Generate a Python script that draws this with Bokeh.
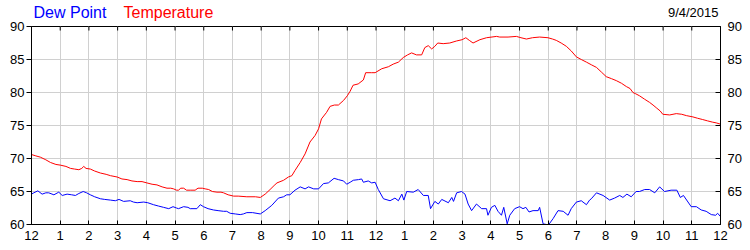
from bokeh.plotting import figure
from bokeh.models import Range1d, LinearAxis, FixedTicker, ColumnDataSource
from bokeh.layouts import column
from bokeh.core.properties import value
from bokeh.embed import file_html
from bokeh.resources import INLINE

# ---- data (hours since midnight, degrees F) ----
temp_hours = [0.0, 0.15, 0.31, 0.5, 0.66, 0.85, 1.0, 1.2, 1.36, 1.5, 1.65, 1.75, 1.82, 1.9, 2.05, 2.2, 2.4,
              2.6, 2.75, 2.98, 3.15, 3.33, 3.5, 3.68, 3.85, 4.02, 4.2, 4.37, 4.55, 4.72, 4.85, 4.95, 5.05,
              5.12, 5.2, 5.3, 5.4, 5.55, 5.7, 5.8, 5.95, 6.05, 6.17, 6.3, 6.46, 6.6, 6.69, 6.85, 7.04, 7.2,
              7.5, 7.8, 7.97, 8.14, 8.31, 8.45, 8.55, 8.78, 8.95, 9.07, 9.18, 9.36, 9.53, 9.7, 9.88, 10.0,
              10.1, 10.28, 10.4, 10.55, 10.69, 10.87, 11.0, 11.1, 11.2, 11.38, 11.56, 11.64, 11.85, 11.97,
              12.2, 12.43, 12.6, 12.78, 12.95, 13.1, 13.24, 13.41, 13.59, 13.7, 13.82, 13.94, 14.05, 14.15,
              14.34, 14.57, 14.8, 15.0, 15.13, 15.25, 15.38, 15.62, 15.85, 16.2, 16.31, 16.6, 16.89, 17.05,
              17.24, 17.45, 17.7, 17.99, 18.15, 18.28, 18.45, 18.63, 18.8, 18.98, 19.15, 19.33, 19.5, 19.68,
              19.85, 20.02, 20.2, 20.37, 20.55, 20.72, 20.85, 20.95, 21.05, 21.18, 21.35, 21.53, 21.65,
              21.76, 21.9, 21.99, 22.23, 22.46, 22.65, 22.81, 23.04, 23.2, 23.38, 23.55, 23.73, 23.85, 24.0]
temp_values = [70.6, 70.4, 70.2, 69.8, 69.4, 69.1, 69.0, 68.8, 68.5, 68.4, 68.3, 68.5, 68.8, 68.5, 68.4, 68.1, 67.8,
               67.6, 67.4, 67.2, 66.9, 66.8, 66.6, 66.5, 66.5, 66.3, 66.1, 66.0, 65.7, 65.5, 65.5, 65.4, 65.2,
               65.2, 65.5, 65.5, 65.2, 65.2, 65.2, 65.5, 65.5, 65.4, 65.3, 65.0, 64.9, 64.9, 64.8, 64.5, 64.3, 64.3,
               64.2, 64.2, 64.1, 64.6, 65.3, 65.9, 66.3, 66.7, 67.2, 67.4, 68.2, 69.4, 70.7, 72.5, 73.5, 74.5,
               76.0, 77.0, 77.9, 78.1, 78.1, 78.8, 79.5, 80.2, 81.1, 81.3, 81.9, 83.0, 83.0, 83.0,
               83.6, 83.9, 84.3, 84.6, 85.3, 85.7, 86.0, 85.7, 85.7, 86.8, 87.1, 86.6, 87.0, 87.5,
               87.4, 87.5, 87.8, 88.0, 88.3, 87.9, 87.5, 88.0, 88.3, 88.5, 88.4, 88.4, 88.5, 88.3,
               88.1, 88.3, 88.4, 88.3, 88.1, 87.9, 87.5, 87.0, 86.3, 85.4, 85.0, 84.6, 84.2, 83.8,
               83.1, 82.4, 82.1, 81.8, 81.4, 80.9, 80.6, 80.0, 79.8, 79.5, 79.0, 78.5, 78.1,
               77.7, 77.2, 76.7, 76.6, 76.8, 76.7, 76.5, 76.3, 76.1, 75.9, 75.7, 75.5, 75.4, 75.2]

dew_hours = [0.0, 0.08, 0.22, 0.37, 0.5, 0.6, 0.78, 0.95, 1.07, 1.24, 1.4, 1.53, 1.65, 1.8, 1.92, 2.05, 2.2, 2.4,
             2.55, 2.75, 2.92, 3.05, 3.21, 3.44, 3.55, 3.68, 3.91, 4.05, 4.25, 4.42, 4.6, 4.78, 4.93, 5.05, 5.12,
             5.3, 5.45, 5.53, 5.76, 5.88, 5.99, 6.15, 6.34, 6.5, 6.69, 6.8, 6.92, 7.1, 7.27, 7.38, 7.5, 7.7, 7.97,
             8.14, 8.37, 8.6, 8.78, 8.89, 9.0, 9.18, 9.36, 9.53, 9.65, 9.83, 10.0, 10.17, 10.34, 10.54, 10.69,
             10.87, 10.98, 11.1, 11.21, 11.39, 11.5, 11.56, 11.73, 11.85, 11.97, 12.08, 12.26, 12.49, 12.66,
             12.78, 12.9, 12.97, 13.07, 13.3, 13.47, 13.65, 13.82, 13.9, 14.05, 14.17, 14.29, 14.52, 14.64,
             14.7, 14.81, 14.98, 15.1, 15.21, 15.33, 15.5, 15.68, 15.85, 15.9, 16.02, 16.14, 16.25, 16.37,
             16.45, 16.57, 16.66, 16.83, 17.0, 17.12, 17.22, 17.33, 17.47, 17.65, 17.7, 17.82, 17.94, 18.02,
             18.17, 18.34, 18.52, 18.69, 18.8, 18.98, 19.15, 19.33, 19.44, 19.5, 19.68, 19.91, 20.14, 20.31,
             20.49, 20.6, 20.74, 20.89, 21.06, 21.18, 21.36, 21.53, 21.71, 21.88, 22.05, 22.28, 22.48, 22.6,
             22.71, 22.98, 23.16, 23.33, 23.5, 23.68, 23.83, 23.9, 24.0]
dew_values = [64.6, 64.8, 65.1, 64.6, 64.8, 64.8, 64.5, 64.9, 64.4, 64.6, 64.5, 64.4, 64.7, 65.0, 64.8, 64.5, 64.2, 63.9,
              63.8, 63.7, 63.6, 63.8, 63.5, 63.6, 63.4, 63.3, 63.4, 63.3, 63.0, 62.8, 62.6, 62.4, 62.7, 62.5, 62.4,
              62.7, 62.6, 62.4, 62.4, 63.0, 62.7, 62.4, 62.2, 62.1, 62.0, 62.0, 61.7, 61.6, 61.5, 61.6, 61.8, 61.8, 61.6,
              62.1, 62.9, 64.0, 64.2, 64.5, 64.5, 65.2, 65.7, 65.4, 65.7, 65.4, 65.4, 66.2, 66.3, 67.0, 66.8,
              66.6, 66.1, 66.4, 66.7, 66.8, 66.9, 66.4, 66.6, 66.3, 66.4, 65.3, 63.9, 63.6, 64.0,
              63.6, 64.6, 63.7, 65.0, 64.9, 65.3, 64.4, 64.4, 62.4, 63.5, 63.1, 63.8, 63.3, 64.1,
              63.5, 64.8, 65.0, 64.6, 63.1, 62.1, 63.1, 62.4, 62.4, 61.4, 62.6, 62.9, 62.0, 61.4,
              62.6, 60.1, 61.4, 62.4, 62.7, 62.4, 62.6, 61.9, 62.1, 62.1, 62.6, 60.1, 60.0, 60.0,
              60.9, 62.1, 62.0, 61.4, 62.4, 63.4, 63.6, 63.0, 63.7, 63.9, 64.8, 64.4, 63.7, 64.0,
              64.4, 64.1, 64.6, 64.2, 65.0, 65.0, 65.3, 65.3, 64.8, 65.7, 65.0, 65.2, 65.2, 64.1,
              64.4, 62.7, 62.7, 62.2, 62.0, 61.5, 61.4, 61.7, 61.2]

x_tick_hours = list(range(25))
x_tick_labels = ["12", "1", "2", "3", "4", "5", "6", "7", "8", "9", "10", "11",
                 "12", "1", "2", "3", "4", "5", "6", "7", "8", "9", "10", "11", "12"]
y_ticks = [60, 65, 70, 75, 80, 85, 90]
series_names = ["Dew Point", "Temperature"]
series_colors = ["#0000ff", "#ff0000"]
date_text = "9/4/2015"

FONT = "Liberation Sans"
GRID = "#d0d0d0"
Y_MIN, Y_MAX = 60, 90
FRAME_H = 198  # plot frame height in px
TOP = 26       # space above the frame
LEFT, RIGHT_EDGE = 31, 720  # frame's left / right page pixel

# ---------- header strip (legend texts + date), overlapped by the main plot's transparent border ----------
# Bokeh aligns the header's frame with the main frame, so its x range is given in page pixels
hdr = figure(width=750, height=TOP, output_backend="svg", toolbar_location=None,
             x_range=Range1d(LEFT, RIGHT_EDGE), y_range=Range1d(0, TOP),
             x_axis_type=None, y_axis_type=None, min_border=0, margin=(0, 0, -TOP, 0))
hdr.outline_line_color = None
hdr.grid.visible = False
hdr.background_fill_color = "white"
hdr.border_fill_color = "white"
hdr_src = ColumnDataSource(dict(x=[33, 123], y=[TOP - 12, TOP - 12],
                                t=series_names, c=series_colors))
hdr.text(x="x", y="y", text="t", text_color="c", source=hdr_src,
         text_font=value(FONT), text_font_size="16px", text_baseline="middle", text_align="left")
hdr.text(x=[718], y=[TOP - 12], text=[date_text], text_color="black",
         text_font=value(FONT), text_font_size="13px", text_baseline="middle", text_align="right")

# ---------- main plot ----------
p = figure(width=750, height=250, output_backend="svg", toolbar_location=None,
           x_range=Range1d(0, 24), y_range=Range1d(Y_MIN, Y_MAX),
           min_border_left=LEFT, min_border_right=750 - RIGHT_EDGE, min_border_top=TOP, min_border_bottom=26)
p.background_fill_color = "white"
p.border_fill_color = "white"
p.border_fill_alpha = 0
p.outline_line_color = "black"
p.outline_line_width = 1

overrides = {h: lab for h, lab in zip(x_tick_hours, x_tick_labels)}

xa = p.xaxis[0]
xa.ticker = FixedTicker(ticks=x_tick_hours)
xa.major_label_overrides = overrides
xa.major_tick_in = 4
xa.major_tick_out = 0
xa.minor_tick_in = 0
xa.minor_tick_out = 0
xa.major_label_standoff = 6
xa.major_label_text_font = FONT
xa.major_label_text_font_size = "13px"
xa.major_label_text_color = "black"
xa.axis_line_color = "black"
xa.major_tick_line_color = "black"

# top inward ticks
tick_len = 4 * (Y_MAX - Y_MIN) / FRAME_H
p.segment(x0=x_tick_hours, y0=[Y_MAX] * len(x_tick_hours),
          x1=x_tick_hours, y1=[Y_MAX - tick_len] * len(x_tick_hours),
          line_color="black", line_width=1)

ya = p.yaxis[0]
ya.ticker = FixedTicker(ticks=y_ticks)
ya.major_tick_in = 0
ya.major_tick_out = 5
ya.minor_tick_in = 0
ya.minor_tick_out = 0
ya.major_label_standoff = 2
ya.major_label_text_font = FONT
ya.major_label_text_font_size = "13px"
ya.major_label_text_color = "black"
ya.axis_line_color = "black"
ya.major_tick_line_color = "black"

right = LinearAxis(ticker=FixedTicker(ticks=y_ticks), major_tick_in=5, major_tick_out=0,
                   minor_tick_in=0, minor_tick_out=0, major_label_standoff=7,
                   major_label_text_font=FONT, major_label_text_font_size="13px",
                   major_label_text_color="black", axis_line_color="black",
                   major_tick_line_color="black")
p.add_layout(right, "right")

p.xgrid.ticker = FixedTicker(ticks=x_tick_hours)
p.ygrid.ticker = FixedTicker(ticks=y_ticks)
p.xgrid.grid_line_color = GRID
p.ygrid.grid_line_color = GRID

p.line(temp_hours, temp_values, line_color=series_colors[1], line_width=1)
p.line(dew_hours, dew_values, line_color=series_colors[0], line_width=1)

layout = column(hdr, p, spacing=0)
open("out.html", "w").write(file_html(layout, INLINE))
